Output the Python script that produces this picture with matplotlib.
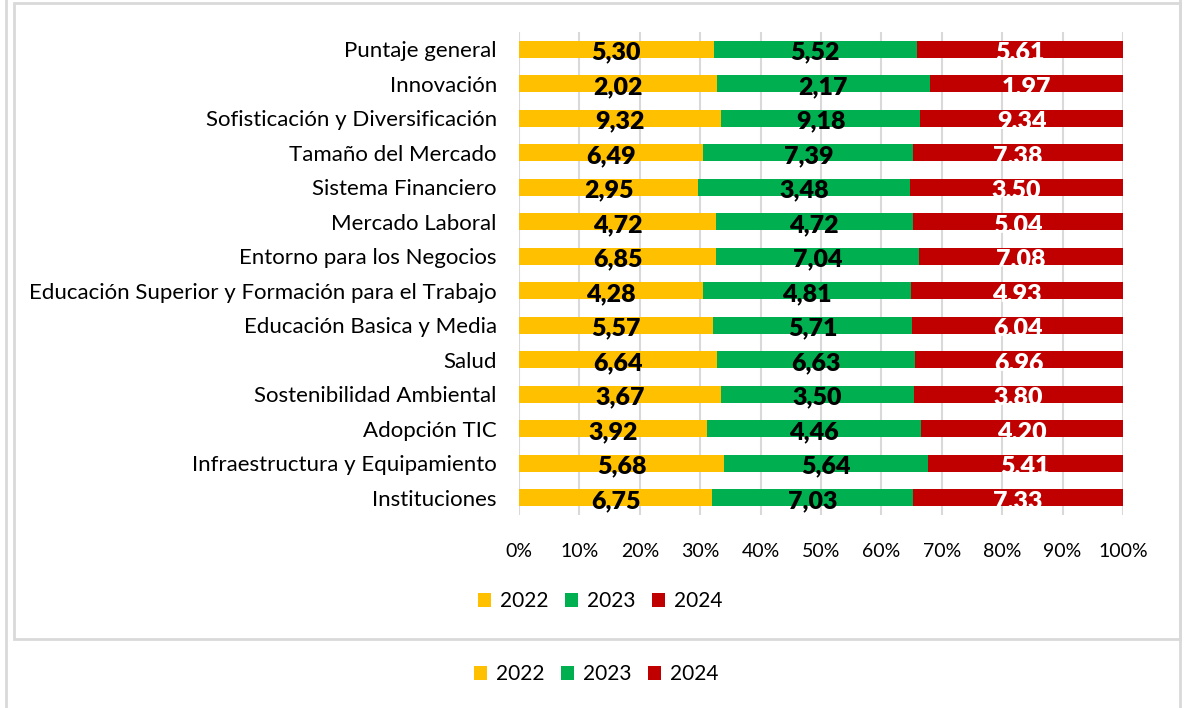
import numpy as np
import matplotlib
matplotlib.use("Agg")
from matplotlib import pyplot as plt
from matplotlib.patches import Rectangle, Patch
from matplotlib.lines import Line2D

plt.rcParams['font.family'] = ['Lato', 'DejaVu Sans']

categories = ["Puntaje general", "Innovación", "Sofisticación y Diversificación",
              "Tamaño del Mercado", "Sistema Financiero", "Mercado Laboral",
              "Entorno para los Negocios", "Educación Superior y Formación para el Trabajo",
              "Educación Basica y Media", "Salud", "Sostenibilidad Ambiental",
              "Adopción TIC", "Infraestructura y Equipamiento", "Instituciones"]
years = ["2022", "2023", "2024"]
v2022 = [5.30, 2.02, 9.32, 6.49, 2.95, 4.72, 6.85, 4.28, 5.57, 6.64, 3.67, 3.92, 5.68, 6.75]
v2023 = [5.52, 2.17, 9.18, 7.39, 3.48, 4.72, 7.04, 4.81, 5.71, 6.63, 3.50, 4.46, 5.64, 7.03]
v2024 = [5.61, 1.97, 9.34, 7.38, 3.50, 5.04, 7.08, 4.93, 6.04, 6.96, 3.80, 4.20, 5.41, 7.33]
tick_labels = ["0%", "10%", "20%", "30%", "40%", "50%", "60%", "70%", "80%", "90%", "100%"]

colors = ["#FFC000", "#00B050", "#C00000"]
label_colors = ["#000000", "#000000", "#FFFFFF"]

W, H = 1184, 708
fig = plt.figure(figsize=(W / 100, H / 100), dpi=100)

# frames
gray = "#D9D9D9"
fig.add_artist(Line2D([6 / W, 6 / W], [0, 1], color=gray, lw=2))
fig.add_artist(Line2D([1180 / W, 1180 / W], [0, 1], color=gray, lw=2))
fig.add_artist(Rectangle((14 / W, 1 - 639 / H), (1180 - 14) / W, (639 - 3) / H,
                         transform=fig.transFigure, fill=False, edgecolor=gray, lw=2))

ax = fig.add_axes([519 / W, 1 - 515 / H, (1123 - 519) / W, (515 - 32) / H])

data = np.array([v2022, v2023, v2024])
totals = data.sum(axis=0)
shares = data / totals
y = np.arange(len(categories))

left = np.zeros(len(categories))
for i in range(3):
    ax.barh(y, shares[i], left=left, height=0.5, color=colors[i], zorder=2)
    for j in range(len(categories)):
        txt = f"{data[i, j]:.2f}".replace(".", ",")
        ax.text(left[j] + shares[i, j] / 2, y[j] + 0.1, txt, ha="center", va="center",
                fontsize=18, fontweight="heavy", color=label_colors[i], zorder=3)
    left = left + shares[i]

ax.set_ylim(len(categories) - 0.5, -0.5)
ax.set_xlim(0, 1)
ax.set_xticks(np.linspace(0, 1, 11))
ax.set_xticklabels(tick_labels, fontsize=14, color="#000000")
ax.set_yticks(y)
ax.set_yticklabels(categories, fontsize=16, color="#000000")
ax.tick_params(axis="both", length=0)
ax.tick_params(axis="x", pad=20)
ax.tick_params(axis="y", pad=16)
ax.grid(axis="x", color="#D9D9D9", lw=1.5, zorder=0)
for s in ax.spines.values():
    s.set_visible(False)

handles = [Patch(facecolor=c, edgecolor="none") for c in colors]
for cx, cy in [(600 / W, 1 - 601 / H), (596 / W, 1 - 674 / H)]:
    fig.legend(handles, years, loc="center", bbox_to_anchor=(cx, cy), ncol=3, frameon=False,
               fontsize=15, handlelength=0.65, handleheight=0.65, handletextpad=0.4,
               columnspacing=0.8)

fig.savefig("out.png", dpi=100)
